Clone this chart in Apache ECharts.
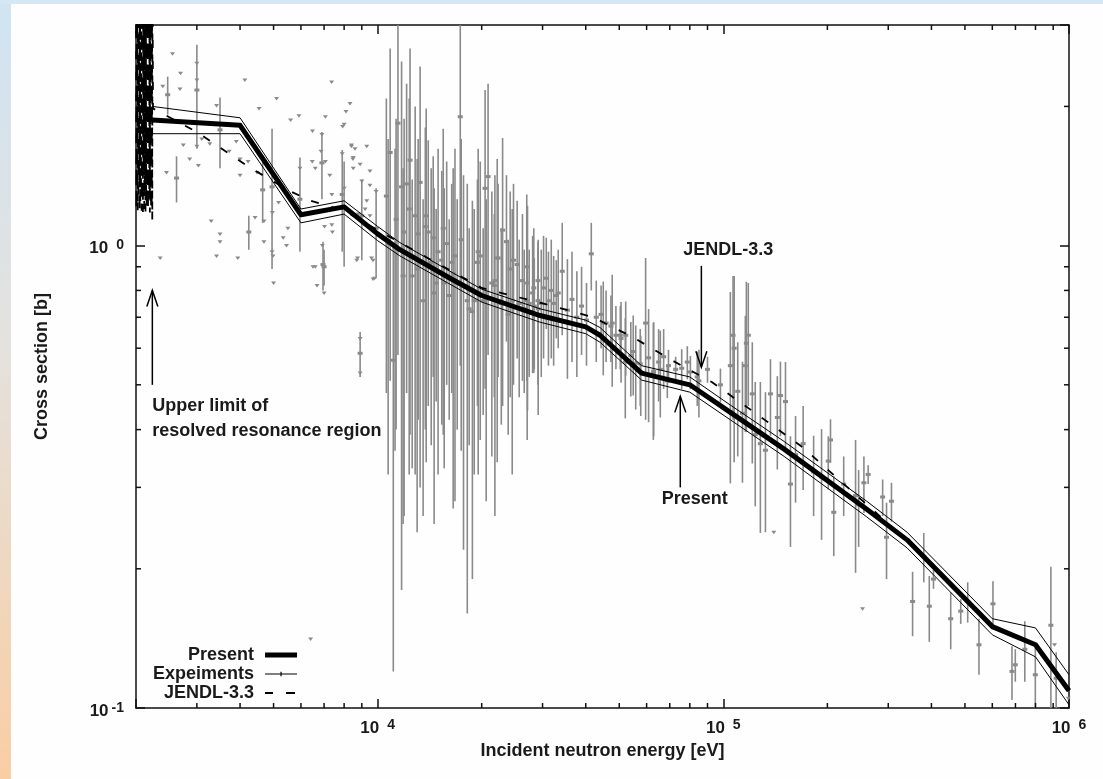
<!DOCTYPE html>
<html>
<head>
<meta charset="utf-8">
<script src="https://cdn.jsdelivr.net/npm/echarts@6/dist/echarts.min.js"></script>
<style>
  html, body { margin: 0; padding: 0; width: 1103px; height: 779px; overflow: hidden; background: #fefefe; }
  #chart { position: absolute; left: 0; top: 0; width: 1103px; height: 779px; }
  #side { position: absolute; left: 0; top: 0; width: 11px; height: 779px; z-index: 2;
          background: linear-gradient(#d0e4f3, #e4e1dd 45%, #f9cea4); }
  #topbar { position: absolute; left: 0; top: 0; width: 1103px; height: 4px; z-index: 2; background: #d5e7f4; }
</style>
</head>
<body>
<div id="chart"></div>
<div id="side"></div>
<div id="topbar"></div>
<script>
// capture cross section, log-log, gnuplot look

// Present evaluation (thick line) and its uncertainty band
const presentE = [2230, 4000, 6000, 8000, 10000, 11600, 16200, 20000, 29500, 40000,
  44000, 58000, 80000, 104800, 150000, 260000, 340000, 600000, 800000, 1000000];
const presentS = [1.87, 1.82, 1.166, 1.213, 1.06, 0.98, 0.85, 0.78, 0.706, 0.667,
  0.64, 0.53, 0.50, 0.436, 0.363, 0.269, 0.231, 0.150, 0.137, 0.109];
const upperS = [2.0, 1.89, 1.20, 1.25, 1.10, 1.015, 0.88, 0.805, 0.73, 0.69,
  0.665, 0.55, 0.52, 0.452, 0.377, 0.28, 0.24, 0.156, 0.149, 0.118];
const lowerS = [1.746, 1.746, 1.12, 1.17, 1.025, 0.95, 0.825, 0.755, 0.683, 0.645,
  0.618, 0.512, 0.482, 0.42, 0.35, 0.259, 0.222, 0.144, 0.129, 0.1016];

// JENDL-3.3 (resonances below 2.24 keV, then smooth)
const jendlE = [2000, 2004.5, 2009, 2013.5, 2018, 2022.5, 2027, 2031.5, 2036, 2040.5,
  2045, 2049.5, 2054, 2058.5, 2063, 2067.5, 2072, 2076.5, 2081, 2085.5,
  2090, 2094.5, 2099, 2103.5, 2108, 2112.5, 2117, 2121.5, 2126, 2130.5,
  2135, 2139.5, 2144, 2148.5, 2153, 2157.5, 2162, 2166.5, 2171, 2175.5,
  2180, 2184.5, 2189, 2193.5, 2198, 2202.5, 2207, 2211.5, 2216, 2220.5,
  2225, 2229, 2232, 2240,
  3000, 4300, 5600, 6400, 8000, 10000, 20000, 31500, 42000, 54700,
  71000, 92600, 119300, 170000, 237000, 330000, 600000, 800000, 1000000];
const jendlS = [4, 1.20, 4, 1.32, 4, 1.18, 4, 1.25, 4, 1.40,
  4, 1.18, 4, 1.22, 4, 1.30, 4, 1.19, 4, 1.26,
  4, 1.18, 4, 1.45, 4, 1.20, 4, 1.35, 4, 1.18,
  4, 1.24, 4, 1.19, 4, 1.28, 4, 1.18, 4, 1.22,
  4, 1.30, 4, 1.18, 4, 1.25, 4, 1.19, 4, 1.20,
  4, 1.13, 4, 1.98,
  1.76, 1.47, 1.31, 1.25, 1.19, 1.08, 0.81, 0.743, 0.70, 0.634,
  0.565, 0.507, 0.443, 0.366, 0.293, 0.235, 0.150, 0.137, 0.109];

// experiments below 10 keV (err 0 = no bar)
const lowE = [
  2550, 2390, 2470, 2680, 2690, 3000, 3000, 3000, 3000, 4130,
  5100, 7360, 8320, 4540, 5920, 7060, 8100, 7920, 5600, 6480,
  6900, 6900, 3500, 3420, 2740, 2620, 2450, 3100, 3270, 2860,
  3030, 3720, 3900, 4000, 4000, 4220, 4480, 4650, 4950, 5170,
  4420, 4240, 4690, 4960, 5500, 5330, 5450, 4950, 4690, 4980,
  3300, 3500, 3500, 3420, 2350, 3940, 5960, 5960, 6470, 6600,
  6860, 7060, 7270, 7370, 7900, 7900, 8400, 8480, 7370, 7020,
  6920, 7000, 6600, 7400, 8750, 5000, 6500, 6680, 7000, 6950,
  8700, 8900, 8900, 8900, 9800, 9600, 8000, 8400, 8600, 9300,
  8500, 8500, 8900, 9500, 8000, 9000, 9500, 9900, 9300, 9200,
  9500, 8800, 9900, 9700, 8000, 9000, 9900, 9700, 6400];
const lowS = [
  2.60, 2.21, 2.12, 2.18, 2.36, 2.17, 2.48, 2.28, 1.64, 2.28,
  2.08, 2.26, 2.03, 1.98, 1.91, 1.90, 1.95, 1.81, 1.87, 1.77,
  1.51, 1.74, 1.78, 2.01, 1.65, 1.40, 1.44, 1.70, 1.66, 1.54,
  1.49, 1.60, 1.68, 1.54, 1.42, 1.52, 1.44, 1.32, 1.34, 1.24,
  1.15, 1.07, 1.13, 1.18, 1.09, 1.04, 1.00, 0.97, 1.02, 0.95,
  1.13, 1.02, 1.06, 0.95, 0.94, 0.94, 1.26, 1.47, 1.52, 1.47,
  1.60, 1.52, 1.42, 1.29, 1.29, 1.58, 1.65, 1.54, 1.11, 1.10,
  1.00, 0.90, 0.90, 1.07, 0.94, 0.83, 0.90, 0.82, 0.79, 0.91,
  0.93, 0.585, 0.63, 0.53, 0.85, 0.94, 1.83, 1.64, 1.62, 1.64,
  1.55, 1.47, 1.50, 1.45, 1.33, 1.38, 1.35, 1.31, 1.25, 1.20,
  1.16, 1.17, 1.065, 0.93, 1.21, 1.16, 1.09, 0.847, 0.141];
const lowErr = [
  0, 0, 0.20, 0, 0, 0.55, 0, 0, 0, 0,
  0, 0, 0, 0, 0, 0, 0, 0, 0, 0,
  0.25, 0, 0.31, 0, 0, 0.16, 0, 0, 0, 0,
  0, 0, 0, 0, 0, 0, 0, 0.20, 0.45, 0,
  0, 0.09, 0, 0, 0, 0, 0, 0, 0, 0,
  0, 0, 0, 0, 0, 0, 0.29, 0, 0, 0,
  0, 0, 0, 0, 0.32, 0, 0, 0, 0, 0,
  0, 0.08, 0, 0, 0, 0, 0, 0, 0, 0.11,
  0, 0.065, 0, 0, 0, 0, 0, 0, 0, 0,
  0, 0, 0, 0, 0, 0, 0, 0, 0, 0,
  0, 0, 0, 0, 0.31, 0.23, 0.24, 0, 0];

// experiments 10 keV - 100 keV
const midE = [
  10600, 10870, 11100, 11450, 11730, 12130, 12410, 12840, 13270, 13740,
  14010, 14480, 14960, 15330, 15840, 16380, 16740, 17340, 17720, 18170,
  18800, 19440, 19810, 20460, 20870, 21400, 21840, 22310, 22990, 23590,
  24180, 24720, 25330, 26240, 27140, 28080, 29100, 11230, 11930, 12590,
  13100, 13540, 14290, 14770, 15580, 16110, 16990, 18400, 19030, 20200,
  21750, 22790, 23860, 25680, 26550, 27450, 28390, 29740, 30750, 31790,
  32870, 27000, 28300, 29100, 30200, 31200, 32300, 33300, 34200, 35400,
  36500, 37700, 38900, 40200, 41500, 42900, 44300, 45800, 47300, 48900,
  50600, 52200, 54000, 55800, 57700, 59600, 60800, 62900, 65000, 67200,
  69400, 72800, 75800, 80300, 85000, 90000, 98100, 44950, 47710, 50350,
  52050, 54880, 57500, 62740, 65720, 68870, 78680, 84060, 10725, 11310,
  11850, 12340, 13010, 13820, 14570, 15480, 16540, 17450, 19540, 20610,
  22180, 24510, 27080, 29140];
const midS = [
  1.28, 1.59, 0.565, 1.84, 1.34, 1.36, 1.53, 1.16, 1.37, 1.10,
  1.07, 1.04, 0.97, 0.93, 1.01, 0.92, 0.95, 1.90, 0.82, 0.76,
  0.72, 0.92, 0.95, 1.33, 1.41, 0.83, 0.84, 0.94, 1.08, 1.02,
  0.89, 0.93, 0.91, 0.84, 0.83, 0.79, 0.84, 0.99, 1.07, 0.86,
  1.06, 0.76, 0.92, 0.83, 0.83, 0.78, 0.83, 0.73, 0.76, 0.76,
  0.82, 0.75, 0.71, 0.75, 0.73, 0.75, 0.74, 0.75, 0.85, 0.80,
  0.78, 0.90, 0.81, 0.76, 0.81, 0.76, 0.75, 0.79, 0.88, 0.725,
  0.765, 0.70, 0.74, 0.69, 0.96, 0.70, 0.71, 0.68, 0.67, 0.64,
  0.63, 0.64, 0.578, 0.557, 0.533, 0.68, 0.572, 0.535, 0.56, 0.575,
  0.55, 0.54, 0.543, 0.533, 0.51, 0.54, 0.50, 0.68, 0.68, 0.64,
  0.56, 0.59, 0.555, 0.53, 0.54, 0.51, 0.56, 0.52, 1.01, 1.14,
  0.86, 1.20, 0.89, 1.16, 0.79, 1.09, 0.87, 1.03, 0.97, 0.77,
  0.94, 0.76, 0.76, 0.73];
const midErr = [
  0.80, 1.08, 0.445, 1.26, 1.16, 0.88, 1.14, 0.84, 1.07, 0.70,
  0.62, 0.52, 0.65, 0.52, 0.51, 0.44, 0.67, 1.35, 0.60, 0.60,
  0.53, 0.47, 0.57, 0.84, 0.83, 0.48, 0.58, 0.42, 0.63, 0.40,
  0.42, 0.43, 0.34, 0.33, 0.39, 0.26, 0.15, 0.63, 0.81, 0.53,
  0.64, 0.50, 0.55, 0.37, 0.50, 0.36, 0.43, 0.36, 0.44, 0.33,
  0.35, 0.34, 0.32, 0.28, 0.25, 0.23, 0.20, 0.23, 0.19, 0.23,
  0.15, 0.39, 0.28, 0.26, 0.24, 0.21, 0.20, 0.19, 0.24, 0.21,
  0.205, 0.18, 0.16, 0.14, 0.16, 0.14, 0.11, 0.12, 0.11, 0.10,
  0.125, 0.117, 0.106, 0.115, 0.105, 0.26, 0.157, 0.148, 0.10, 0.085,
  0.045, 0.035, 0.054, 0.044, 0.085, 0.035, 0.042, 0.156, 0.185, 0.10,
  0.137, 0.116, 0.105, 0.15, 0.115, 0.042, 0.046, 0.07, 0.69, 0.74,
  0.61, 0.88, 0.65, 0.82, 0.54, 0.70, 0.60, 0.67, 0.65, 0.49,
  0.60, 0.44, 0.38, 0.30];

// experiments above 100 keV
const highE = [
  104800, 106700, 107500, 110100, 113600, 116600, 121300, 123700, 128000, 132400,
  136900, 143300, 146300, 151300, 156400, 161800, 170200, 182500, 192400, 201200,
  204200, 208700, 223000, 241300, 246300, 255100, 262400, 289000, 296600, 306500,
  352800, 380100, 394300, 405500, 454800, 486200, 509300, 549000, 602600, 684000,
  699300, 745000, 799000, 886300, 918000, 115800, 118100, 140000, 252800, 908000,
  995000];
const highS = [
  0.55, 0.64, 0.60, 0.484, 0.434, 0.615, 0.478, 0.39, 0.373, 0.361,
  0.478, 0.425, 0.474, 0.46, 0.305, 0.353, 0.373, 0.324, 0.316, 0.342,
  0.38, 0.265, 0.305, 0.288, 0.275, 0.307, 0.32, 0.286, 0.234, 0.28,
  0.17, 0.213, 0.166, 0.19, 0.156, 0.162, 0.17, 0.137, 0.168, 0.12,
  0.124, 0.134, 0.118, 0.151, 0.116, 0.55, 0.64, 0.24, 0.164, 0.137,
  0.105];
const highErr = [
  0.244, 0.22, 0.26, 0.134, 0.127, 0.22, 0.14, 0.117, 0.134, 0.121,
  0.09, 0.097, 0.087, 0.10, 0.082, 0.075, 0.077, 0.064, 0.085, 0.045,
  0.041, 0.052, 0.045, 0.092, 0.052, 0.043, 0.015, 0.026, 0.044, 0.027,
  0.027, 0.026, 0.027, 0.009, 0.022, 0.01, 0.017, 0.019, 0.02, 0.016,
  0.01, 0.02, 0.018, 0.051, 0.016, 0.155, 0.19, 0, 0, 0,
  0];

// minor tick values (gnuplot draws them on all four sides)
const xMinorTicks = [3000, 4000, 5000, 6000, 7000, 8000, 9000,
  20000, 30000, 40000, 50000, 60000, 70000, 80000, 90000,
  200000, 300000, 400000, 500000, 600000, 700000, 800000, 900000];
const yMinorTicks = [0.2, 0.3, 0.4, 0.5, 0.6, 0.7, 0.8, 0.9, 2];

const FONT = '"Liberation Sans", Arial, Helvetica, sans-serif';
const INK = '#1a1a1a';
const GREY = '#8a8a8a';
// corner dots keep the legend icon boxes at 32x16 so paths are not stretched
const BOX = ' M0,0H0.01V0.01H0Z M31.99,15.99H32V16H31.99Z';

const zip = (xs, ys) => xs.map((x, i) => [x, ys[i]]);
const rows = (es, ss, errs) => es.map((e, i) => [e, ss[i], errs[i]]);

const expData = [].concat(rows(lowE, lowS, lowErr), rows(midE, midS, midErr), rows(highE, highS, highErr));

function powLabel(v) {
  const lg = Math.log10(v);
  const p = Math.round(lg);
  if (Math.abs(lg - p) > 1e-6) return '';
  return '{b|10}{' + (p < 0 ? 'sn' : 's') + '|' + p + '}';
}

const labelRich = {
  b: { fontFamily: FONT, fontSize: 17, fontWeight: 'bold', color: INK, lineHeight: 20 },
  s: { fontFamily: FONT, fontSize: 14, fontWeight: 'bold', color: INK, lineHeight: 9, verticalAlign: 'top', padding: [0, 0, 0, 8] },
  sn: { fontFamily: FONT, fontSize: 14, fontWeight: 'bold', color: INK, lineHeight: 9, verticalAlign: 'top', padding: [0, 0, 0, 3] }
};

const frame = { show: true, lineStyle: { color: '#111', width: 1.5 } };
const majorTick = { show: true, inside: true, length: 9, lineStyle: { color: '#111', width: 1.5 } };
const tickStyle = { stroke: '#111', lineWidth: 1.5 };

function renderMinorX(params, api) {
  const cs = params.coordSys;
  const x = api.coord([api.value(0), 1])[0];
  const top = cs.y, bot = cs.y + cs.height;
  return { type: 'group', children: [
    { type: 'line', shape: { x1: x, y1: bot, x2: x, y2: bot - 5 }, style: tickStyle },
    { type: 'line', shape: { x1: x, y1: top, x2: x, y2: top + 5 }, style: tickStyle }
  ] };
}

function renderMinorY(params, api) {
  const cs = params.coordSys;
  const y = api.coord([2000, api.value(1)])[1];
  const l = cs.x, r = cs.x + cs.width;
  return { type: 'group', children: [
    { type: 'line', shape: { x1: l, y1: y, x2: l + 5, y2: y }, style: tickStyle },
    { type: 'line', shape: { x1: r, y1: y, x2: r - 5, y2: y }, style: tickStyle }
  ] };
}

function renderExp(params, api) {
  const cs = params.coordSys;
  const e = api.value(0), s = api.value(1), err = api.value(2);
  const p = api.coord([e, s]);
  const kids = [];
  if (err > 0) {
    const hi = Math.max(api.coord([e, s + err])[1], cs.y);
    const lo = Math.min(api.coord([e, s - err])[1], cs.y + cs.height);
    kids.push({ type: 'line', shape: { x1: p[0], y1: hi, x2: p[0], y2: lo }, style: { stroke: GREY, lineWidth: 1.6 } });
    kids.push({ type: 'rect', shape: { x: p[0] - 2.5, y: p[1] - 1.5, width: 5, height: 3 }, style: { fill: GREY } });
  } else {
    kids.push({ type: 'polygon', shape: { points: [[p[0] - 2.5, p[1] - 1.5], [p[0] + 2.5, p[1] - 1.5], [p[0], p[1] + 2]] }, style: { fill: GREY } });
  }
  return { type: 'group', children: kids };
}

const chart = echarts.init(document.getElementById('chart'), null, { renderer: 'canvas' });

chart.setOption({
  backgroundColor: 'transparent',
  animation: false,
  grid: { left: 136, right: 34, top: 25, bottom: 71, outerBoundsMode: 'none' },
  legend: {
    left: 153, top: 646, orient: 'vertical', align: 'right', padding: 0,
    itemWidth: 32, itemHeight: 16, itemGap: 1, selectedMode: false,
    textStyle: { fontFamily: FONT, fontSize: 18, fontWeight: 'bold', color: INK, lineHeight: 16, padding: [0, 6, 0, 0] },
    data: [
      { name: 'Present', icon: 'path://M0,5.5H32V10.5H0Z' + BOX, itemStyle: { color: '#000' } },
      { name: 'Expeiments', icon: 'path://M0,7.5H32V8.5H0Z M15.4,5.8H16.6V10.2H15.4Z' + BOX, itemStyle: { color: '#000' } },
      { name: 'JENDL-3.3', icon: 'path://M0,7H8V9H0Z M21,7H30V9H21Z' + BOX, itemStyle: { color: '#000' } }
    ]
  },
  xAxis: [
    {
      type: 'log', logBase: 10, min: 2000, max: 1000000, position: 'bottom',
      axisLine: frame, axisTick: majorTick, splitLine: { show: false },
      axisLabel: { margin: 10, formatter: powLabel, rich: labelRich },
      name: 'Incident neutron energy [eV]', nameLocation: 'middle', nameGap: 34,
      nameTextStyle: { fontFamily: FONT, fontSize: 18, fontWeight: 'bold', color: INK }
    },
    {
      type: 'log', logBase: 10, min: 2000, max: 1000000, position: 'top',
      axisLine: frame, axisTick: majorTick, splitLine: { show: false }, axisLabel: { show: false }
    }
  ],
  yAxis: [
    {
      type: 'log', logBase: 10, min: 0.1, max: 3, position: 'left',
      axisLine: frame, axisTick: majorTick, splitLine: { show: false },
      axisLabel: { margin: 12, formatter: powLabel, rich: labelRich, padding: [6, 0, 0, 0] },
      name: 'Cross section [b]', nameLocation: 'middle', nameGap: 85,
      nameTextStyle: { fontFamily: FONT, fontSize: 18, fontWeight: 'bold', color: INK }
    },
    {
      type: 'log', logBase: 10, min: 0.1, max: 3, position: 'right',
      axisLine: frame, axisTick: majorTick, splitLine: { show: false }, axisLabel: { show: false }
    }
  ],
  series: [
    {
      name: 'Expeiments', type: 'custom', renderItem: renderExp, data: expData,
      encode: { x: 0, y: 1 }, itemStyle: { color: GREY }, silent: true, z: 2
    },
    {
      name: 'JENDL-3.3', type: 'line', data: zip(jendlE, jendlS), symbol: 'none', clip: true,
      itemStyle: { color: '#000' }, lineStyle: { color: '#000', width: 1.8, type: [8, 13] }, silent: true, z: 3
    },
    {
      name: 'Present upper', type: 'line', data: zip(presentE, upperS), symbol: 'none',
      lineStyle: { color: '#000', width: 1 }, silent: true, z: 4
    },
    {
      name: 'Present lower', type: 'line', data: zip(presentE, lowerS), symbol: 'none',
      lineStyle: { color: '#000', width: 1 }, silent: true, z: 4
    },
    {
      name: 'Present', type: 'line', data: zip(presentE, presentS), symbol: 'none',
      itemStyle: { color: '#000' }, lineStyle: { color: '#000', width: 5, join: 'round' }, silent: true, z: 5
    },
    {
      name: 'minor-x', type: 'custom', renderItem: renderMinorX,
      data: xMinorTicks.map(v => [v, 1]), encode: { x: 0, y: 1 }, silent: true, z: 6
    },
    {
      name: 'minor-y', type: 'custom', renderItem: renderMinorY,
      data: yMinorTicks.map(v => [2000, v]), encode: { x: 0, y: 1 }, silent: true, z: 6
    }
  ]
});

// annotations, anchored in data space
const notes = [
  { lines: ['Upper limit of', 'resolved resonance region'], at: [2230, 0.45], align: 'left', tip: [2230, 0.80], tail: [2230, 0.50] },
  { lines: ['JENDL-3.3'], at: [103400, 0.979], align: 'center', tip: [86400, 0.546], tail: [86400, 0.904] },
  { lines: ['Present'], at: [82690, 0.283], align: 'center', tip: [75080, 0.472], tail: [75080, 0.30] }
];

function toPx(pt) { return chart.convertToPixel({ xAxisIndex: 0, yAxisIndex: 0 }, pt); }

const graphics = [];
notes.forEach(n => {
  const a = toPx(n.at);
  n.lines.forEach((t, i) => {
    graphics.push({
      type: 'text', x: a[0], y: a[1] + i * 25, z: 10,
      style: { text: t, font: 'bold 18px ' + FONT, fill: INK, textAlign: n.align, textVerticalAlign: 'middle' }
    });
  });
  const tip = toPx(n.tip), tail = toPx(n.tail);
  const dir = tail[1] > tip[1] ? 1 : -1;
  graphics.push({ type: 'line', z: 10, shape: { x1: tail[0], y1: tail[1], x2: tip[0], y2: tip[1] }, style: { stroke: '#000', lineWidth: 1.5 } });
  graphics.push({
    type: 'polyline', z: 10,
    shape: { points: [[tip[0] - 5.5, tip[1] + dir * 16], [tip[0], tip[1]], [tip[0] + 5.5, tip[1] + dir * 16]] },
    style: { stroke: '#000', lineWidth: 1.5, fill: null }
  });
});
chart.setOption({ graphic: graphics });
</script>
</body>
</html>
